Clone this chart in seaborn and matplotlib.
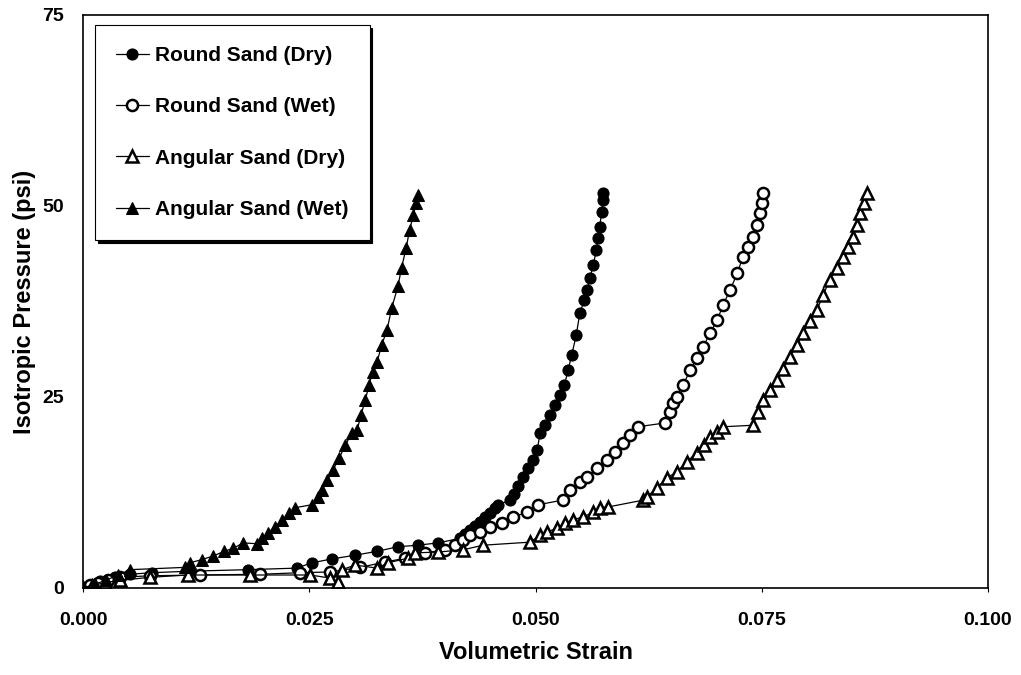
import numpy as np
import pandas as pd
import matplotlib
matplotlib.use("Agg")
import matplotlib.pyplot as plt
import seaborn as sns

sns.set_style("white")
plt.rcParams['font.family'] = ['Liberation Sans', 'DejaVu Sans']
plt.rcParams.update({"text.color": "black", "axes.labelcolor": "black",
                     "xtick.color": "black", "ytick.color": "black"})

# values
round_dry_x = [0, .0008, .0019, .0035, .0052, .0076, .0118, .0182, .0236, .0253, .0275, .0301,
               .0325, .0348, .0370, .0392, .0417, .0422, .0428, .0433, .0439, .0444, .0450, .0455,
               .0459, .0472, .0476, .0481, .0486, .0492, .0497, .0502, .0505, .0510, .0516, .0522,
               .0527, .0532, .0536, .0540, .0545, .0549, .0554, .0557, .0560, .0564, .0567, .0569,
               .0571, .0573, .0575, .0575]
round_dry_p = [0, .4, .9, 1.4, 1.8, 2.0, 2.2, 2.4, 2.6, 3.3, 3.8, 4.3,
               4.8, 5.4, 5.6, 5.9, 6.5, 7.1, 7.6, 8.1, 8.6, 9.3, 9.8, 10.5,
               10.9, 11.5, 12.3, 13.4, 14.5, 15.7, 16.8, 18.1, 20.3, 21.3, 22.6, 24.0,
               25.3, 26.6, 28.5, 30.5, 33.1, 36.0, 37.7, 39.0, 40.6, 42.3, 44.2, 45.8,
               47.3, 49.2, 50.8, 51.7]

round_wet_x = [0, .0008, .0017, .0028, .0041, .0074, .0129, .0196, .0240, .0273, .0306, .0334,
               .0356, .0378, .0400, .0411, .0420, .0428, .0439, .0450, .0463, .0475, .0491, .0503,
               .0530, .0538, .0549, .0557, .0568, .0579, .0588, .0597, .0604, .0613, .0643, .0649,
               .0652, .0656, .0663, .0671, .0678, .0685, .0693, .0701, .0707, .0715, .0723, .0729,
               .0735, .0740, .0745, .0748, .0750, .0751]
round_wet_p = [0, .4, .7, 1.0, 1.4, 1.6, 1.7, 1.8, 2.0, 2.1, 2.7, 3.4,
               3.9, 4.6, 5.0, 5.6, 6.3, 6.9, 7.3, 8.0, 8.5, 9.3, 9.9, 10.9,
               11.5, 12.8, 13.9, 14.5, 15.7, 16.8, 17.8, 19.0, 20.0, 21.1, 21.6, 23.0,
               24.2, 25.0, 26.6, 28.5, 30.1, 31.5, 33.4, 35.1, 37.0, 39.0, 41.2, 43.3,
               44.6, 45.9, 47.5, 49.1, 50.4, 51.7]

angular_dry_x = [0, .0010, .0024, .0041, .0074, .0116, .0185, .0251, .0273, .0282, .0286, .0301,
                 .0325, .0337, .0359, .0367, .0392, .0420, .0442, .0494, .0505, .0513, .0524, .0533,
                 .0541, .0552, .0564, .0571, .0580, .0619, .0623, .0634, .0645, .0656, .0667, .0678,
                 .0686, .0693, .0701, .0707, .0740, .0746, .0751, .0759, .0767, .0773, .0781, .0789,
                 .0796, .0803, .0811, .0818, .0825, .0833, .0840, .0845, .0851, .0855, .0859, .0863,
                 .0866]
angular_dry_p = [0, .3, .7, 1.0, 1.4, 1.7, 1.7, 1.7, 1.3, .8, 2.4, 3.0,
                 2.6, 3.3, 3.9, 4.6, 4.7, 5.0, 5.6, 6.0, 6.9, 7.3, 7.9, 8.5,
                 8.9, 9.3, 9.9, 10.5, 10.6, 11.5, 11.9, 13.1, 14.4, 15.2, 16.5, 17.7,
                 18.7, 19.8, 20.4, 21.1, 21.3, 23.0, 24.6, 25.9, 27.2, 28.7, 30.2, 31.8,
                 33.4, 34.9, 36.4, 38.4, 40.3, 41.9, 43.3, 44.6, 45.9, 47.5, 49.1, 50.4,
                 51.7]

angular_wet_x = [0, .0013, .0025, .0039, .0052, .0113, .0118, .0131, .0144, .0156, .0166, .0177,
                 .0192, .0198, .0204, .0212, .0220, .0228, .0234, .0253, .0260, .0264, .0270, .0276,
                 .0283, .0290, .0297, .0303, .0307, .0312, .0316, .0320, .0325, .0330, .0336, .0341,
                 .0348, .0352, .0357, .0361, .0365, .0368, .0370]
angular_wet_p = [0, .5, 1.0, 1.7, 2.4, 2.7, 3.3, 3.7, 4.2, 4.8, 5.2, 5.9,
                 5.8, 6.5, 7.2, 8.0, 8.9, 9.8, 10.5, 10.9, 11.9, 12.8, 14.1, 15.4,
                 17.0, 18.7, 20.3, 20.7, 22.6, 24.6, 26.6, 28.3, 29.6, 31.8, 33.8, 36.6,
                 39.5, 41.9, 44.5, 46.9, 48.8, 50.4, 51.4]

x_ticks = [0.0, 0.025, 0.05, 0.075, 0.1]
y_ticks = [0, 25, 50, 75]

series = [
    ("Round Sand (Dry)", round_dry_x, round_dry_p, dict(marker="o", markerfacecolor="black", markersize=8)),
    ("Round Sand (Wet)", round_wet_x, round_wet_p, dict(marker="o", markerfacecolor="white", markersize=8, markeredgewidth=1.8)),
    ("Angular Sand (Dry)", angular_dry_x, angular_dry_p, dict(marker="^", markerfacecolor="white", markersize=8, markeredgewidth=1.8)),
    ("Angular Sand (Wet)", angular_wet_x, angular_wet_p, dict(marker="^", markerfacecolor="black", markersize=8)),
]

fig = plt.figure(figsize=(10.21, 6.75), dpi=100)
ax = fig.add_axes([0.0813, 0.1289, 0.8864, 0.8489])

for name, xs, ps, kw in series:
    df = pd.DataFrame({"strain": xs, "pressure": ps})
    sns.lineplot(data=df, x="strain", y="pressure", sort=False, estimator=None, ax=ax,
                 color="black", linewidth=0.9, markeredgecolor="black", label=name, **kw)

ax.set_xlim(0, 0.1)
ax.set_ylim(0, 75)
ax.set_xticks(x_ticks)
ax.set_xticklabels([f"{v:.3f}" for v in x_ticks])
ax.set_yticks(y_ticks)
ax.tick_params(axis="both", labelsize=14, pad=10)
ax.tick_params(axis="x", pad=14)
for lab in ax.get_xticklabels() + ax.get_yticklabels():
    lab.set_fontweight("bold")
ax.tick_params(axis="x", direction="out", length=3, width=0.8, bottom=True)
ax.set_xlabel("Volumetric Strain", fontsize=17, fontweight="bold", labelpad=9)
ax.set_ylabel("Isotropic Pressure (psi)", fontsize=17, fontweight="bold", labelpad=5)
for s in ax.spines.values():
    s.set_color("black")
    s.set_linewidth(1.2)

leg = ax.legend(loc="upper left", bbox_to_anchor=(0.013, 0.982), borderaxespad=0,
                fontsize=15, frameon=True, fancybox=False, edgecolor="black",
                labelspacing=1.55, handlelength=1.6, handletextpad=0.3, borderpad=1.0,
                shadow={"color": "black", "alpha": 1, "ox": 2, "oy": -2})
for t in leg.get_texts():
    t.set_fontweight("bold")
leg.get_frame().set_linewidth(0.8)

fig.savefig("out.png", dpi=100)
